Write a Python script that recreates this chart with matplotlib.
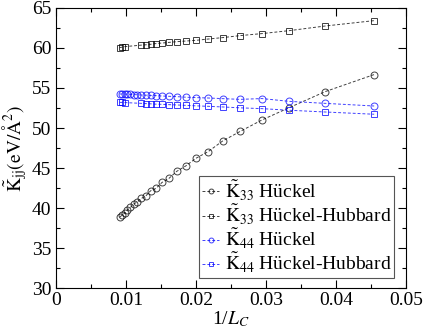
import matplotlib
matplotlib.use('Agg')
import matplotlib.pyplot as plt
from matplotlib.ticker import MultipleLocator

plt.rcParams['font.family'] = ['Liberation Serif', 'DejaVu Serif']
plt.rcParams['mathtext.fontset'] = 'stix'

# 1/L_C values
x_huckel = [0.00909, 0.00943, 0.00980, 0.01020, 0.01064, 0.01111, 0.01163,
            0.01220, 0.01282, 0.01351, 0.01429, 0.01515, 0.01613, 0.01724,
            0.01852, 0.02000, 0.02174, 0.02381, 0.02632, 0.02941, 0.03333,
            0.03846, 0.04545]
x_hubbard = [0.00909, 0.00943, 0.00980,
             0.01220, 0.01282, 0.01351, 0.01429, 0.01515, 0.01613, 0.01724,
             0.01852, 0.02000, 0.02174, 0.02381, 0.02632, 0.02941, 0.03333,
             0.03846, 0.04545]

k33_huckel = [38.85, 39.10, 39.35, 39.75, 40.08, 40.50, 40.78,
              41.20, 41.50, 42.15, 42.45, 43.20, 43.70, 44.58,
              45.25, 46.22, 47.05, 48.38, 49.58, 51.00, 52.55,
              54.55, 56.68]
k33_hubbard = [60.05, 60.10, 60.17,
               60.36, 60.40, 60.46, 60.56, 60.62, 60.70, 60.79,
               60.87, 60.96, 61.12, 61.30, 61.55, 61.80, 62.17,
               62.75, 63.42]
k44_huckel = [54.25, 54.25, 54.24, 54.22, 54.20, 54.18, 54.15,
              54.12, 54.10, 54.07, 54.05, 54.00, 53.96, 53.92,
              53.85, 53.80, 53.75, 53.67, 53.58, 53.68, 53.33,
              53.08, 52.75]
k44_hubbard = [53.20, 53.20, 53.18,
               53.08, 53.05, 53.02, 52.98, 52.96, 52.92, 52.88,
               52.83, 52.77, 52.71, 52.63, 52.52, 52.42, 52.22,
               52.00, 51.72]

fig = plt.figure(figsize=(4.25, 3.33), dpi=100)
ax = fig.add_axes([0.1318, 0.1351, 0.8235, 0.8409])

style = dict(linestyle='--', linewidth=0.7, markersize=5, markerfacecolor='none',
             markeredgewidth=0.7, dashes=(3, 2))
ax.plot(x_huckel, k33_huckel, marker='o', color='black', alpha=0.75,
        label=r'$\tilde{\mathrm{K}}_{33}$ Hückel', **style)
ax.plot(x_hubbard, k33_hubbard, marker='s', color='black', alpha=0.75,
        label=r'$\tilde{\mathrm{K}}_{33}$ Hückel-Hubbard', **style)
ax.plot(x_huckel, k44_huckel, marker='o', color='#0000ff', alpha=0.75,
        label=r'$\tilde{\mathrm{K}}_{44}$ Hückel', **style)
ax.plot(x_hubbard, k44_hubbard, marker='s', color='#0000ff', alpha=0.75,
        label=r'$\tilde{\mathrm{K}}_{44}$ Hückel-Hubbard', **style)

ax.set_xlim(0, 0.05)
ax.set_ylim(30, 65)
ax.set_xticks([0, 0.01, 0.02, 0.03, 0.04, 0.05])
ax.set_xticklabels(['0', '0.01', '0.02', '0.03', '0.04', '0.05'])
ax.xaxis.set_minor_locator(MultipleLocator(0.005))
ax.yaxis.set_major_locator(MultipleLocator(5))
ax.yaxis.set_minor_locator(MultipleLocator(2.5))
ax.tick_params(which='both', direction='in', top=True, right=True, labelsize=14)
ax.tick_params(which='major', length=6, width=0.8)
ax.tick_params(which='minor', length=3, width=0.8)
ax.tick_params(axis='x', pad=3)

ax.set_xlabel(r'1/$L_C$', fontsize=14, labelpad=0)
ax.set_ylabel(r'$\tilde{\mathrm{K}}_{\mathrm{jj}}(\mathrm{eV/\AA^2})$', fontsize=14, labelpad=2)

leg = ax.legend(loc='lower right', bbox_to_anchor=(0.9666, 0.0346), borderaxespad=0,
                fontsize=14, handlelength=0.85, handletextpad=0.3, labelspacing=0.0,
                fancybox=False, edgecolor='#555555', framealpha=1, borderpad=0.15,
                markerscale=0.7)
leg.get_frame().set_linewidth(0.8)

fig.savefig('out.png', dpi=100)
